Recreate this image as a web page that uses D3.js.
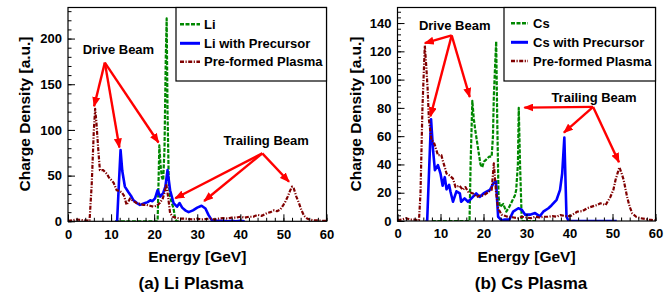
<!DOCTYPE html>
<html><head><meta charset="utf-8">
<script src="https://cdn.jsdelivr.net/npm/d3@7"></script>
<style>
body{margin:0;background:#fff;}
svg text{font-family:"Liberation Sans",Arial,Helvetica,sans-serif;font-weight:bold;fill:#000;}
</style></head>
<body><svg id="c" width="672" height="295"></svg>
<script>
// ---------------- data ----------------
const xTicks = [0,10,20,30,40,50,60];
const liYTicks = [0,50,100,150,200];
const csYTicks = [0,20,40,60,80,100,120,140];

// (a) Li plasma
const liE = [11,12,13,14,15,16,17,18,19,20,20.8,21.0,21.2,21.5,21.8,22.1,22.4,22.7,22.9,23.1,23.4,23.7,24.1,24.5,24.9,25.3,26];
const liV = [0,0,0,0,0,0,0,0,0,0,0,40,83,60,48,45,80,180,222,120,40,27,20,14,2,0,0];

const liPrecE = [11,11.4,11.8,12.2,12.6,13.2,14.0,14.6,15.2,16.0,16.7,17.3,17.9,18.5,19.1,19.6,20.2,20.8,21.4,22.1,22.6,23.1,23.7,24.5,25.3,25.9,26.5,27.2,28,29,30,31,31.9,32.6,33.4,34,35,36,37,38,39,40,41];
const liPrecV = [0,0,40,78,55,38,32,28,23,20,18,19,20,21,23,22,25,34,27,31,38,56,34,20,16,20,15,12,10,12,15,17,14,7,1,0.5,0.5,0.5,0,0.5,0,0.5,0];

const liPreE = [0,1,2,3,4,5,5.5,6.0,6.3,6.6,7.0,7.4,8.2,9.0,9.5,10.1,10.6,11.3,12.0,12.4,13.0,13.6,14.4,15.2,15.9,16.8,17.5,18.2,19.0,19.8,20.6,21.3,22.0,22.5,22.8,23.2,23.7,24.3,25,26,27,28,29,30,31,32,33,34,35,36,37,38,39,40,41,42,43,44,45,46.2,47,47.8,48.5,49.3,50,50.5,51,51.5,52,52.4,53,53.6,54.2,54.8,55.5,56,57,58,59,60];
const liPreV = [0.5,1,2,1.5,1,0.5,40,100,123,108,80,56,56,52,48,45,42,34,33,32,28,18,25,22,20,19,18,18,17,16,17,20,25,33,41,28,9,5,4,3,3,2.5,2,3,2,2.5,3,2,3,3.5,3,4,4,5,4,5,5,7,6,9,10,12,11,13,18,22,27,33,38,36,27,20,12,6,3,2,1,1,0.5,0.5,0.5];

// (b) Cs plasma
const csE = [8,10,12,14,16,16.75,17.0,17.4,17.75,18.1,18.8,19.3,19.7,20.1,20.5,21.3,21.9,22.2,22.4,22.7,22.95,23.2,23.5,23.8,24.2,24.6,25.3,26,26.8,27.3,27.6,28.0,28.2,28.5,28.9,30,32];
const csV = [0,0,0,0,0,0,40,85,72,64,50,40,38,42,43,45.5,45.5,60,88,110,127,70,17,10,11,12,6.6,10,15,18,22,40,80,40,0,0,0];

const csPrecE = [6.5,6.9,7.4,7.8,8.3,8.7,9.4,10,10.5,11,11.4,12,12.3,12.9,13.7,14.5,14.8,15.6,16.4,17.2,18.3,19.1,20,20.7,21.5,22.3,22.9,23.4,24.2,25,26,26.9,28.1,28.9,29.7,30.8,32,33.1,33.9,35.1,35.8,37,37.8,38.3,38.8,39.3,39.8,41,43,45,47,49,51];
const csPrecV = [0,0,40,72,49,36,39.5,33.6,25,31,22.4,25.6,21,13.6,21,19.5,13.6,16,13.6,16,19.5,17,19.5,20.7,22,26.6,28,3,0.5,1,1,6.6,9,8,4.5,4.5,5.6,3.3,6.6,9,11,15,22,33.6,59,3,0,0,0,0,0,0,0];

const csPreE = [0,1,2,3,4,5,5.35,5.8,6.35,6.7,7.0,7.3,7.9,8.4,8.7,9.4,10.2,10.5,11.0,11.4,12.2,12.9,13.5,14.4,15.2,15.8,16.4,17.6,18.4,19.2,20,21.2,21.9,22.4,22.9,23.4,24.2,25.3,26,27,28,29,30,31,32,33,34,35,36,37,37.9,39,40.2,41,41.8,43,44.1,45,46.4,47.2,48.4,49.5,50.2,50.7,51.2,51.6,52.1,52.6,53.4,54,54.6,55.5,56.5,57.5,58.5,60];
const csPreV = [0.5,1,2,1,1,0.5,20,80,124,109,94,72,57,56,53.6,46.6,46.6,43,38,33.6,32,30,24,25,22,24,20.7,19.5,17,18,18,20.7,22,40.7,21,9,4.5,3.3,3,2.5,2,3,2.5,2,3,2.5,3,3,3.5,3,4.2,3.5,3.4,5,6.6,7,9,10,11.3,12.5,11.3,17,22,29,34,38,34,29,17,10,5.4,3,2,1.5,1,0.5];

const liLegend = ["Li","Li with Precursor","Pre-formed Plasma"];
const csLegend = ["Cs","Cs with Precursor","Pre-formed Plasma"];
const captions = ["(a) Li Plasma","(b) Cs Plasma"];

// annotations in data units: label, label pos, origin, arrow tips
const liNotes = [
  {text:"Drive Beam", at:[11.7,188], from:[8.55,173.7], to:[[6.06,126],[11.93,80.7],[21.0,86.2]]},
  {text:"Trailing Beam", at:[46,88], from:[45.1,74.4], to:[[51.3,43.3],[31.6,22.2],[24.9,25.2]]}
];
const csNotes = [
  {text:"Drive Beam", at:[13.3,138.3], from:[12.6,131.3], to:[[6.35,125.8],[7.67,74.1],[16.8,87.7]]},
  {text:"Trailing Beam", at:[45.7,87.7], from:[45.5,80.7], to:[[29.5,80.2],[38.7,62.5],[51.5,41.6]]}
];

// ---------------- drawing ----------------
const svg = d3.select("#c");
const defs = svg.append("defs");
defs.append("marker").attr("id","ah").attr("viewBox","0 0 10 8")
  .attr("refX",9).attr("refY",4).attr("markerWidth",10).attr("markerHeight",8)
  .attr("markerUnits","userSpaceOnUse").attr("orient","auto")
  .append("path").attr("d","M0,0L10,4L0,8Z").attr("fill","#ff0000");

const styles = [
  {color:"#008800", width:2.2, dash:"4,1.5"},
  {color:"#0000ff", width:2.6, dash:null},
  {color:"#800000", width:2.2, dash:"4,1.5,1.2,1.5"}
];

function panel(cfg){
  const g = svg.append("g");
  const x = d3.scaleLinear().domain([0,60]).range([cfg.x0,cfg.x1]);
  const y = d3.scaleLinear().domain([0,cfg.ymax]).range([cfg.y1,cfg.y0]);
  const id = "clip"+cfg.name;
  defs.append("clipPath").attr("id",id).append("rect")
    .attr("x",cfg.x0).attr("y",cfg.y0).attr("width",cfg.x1-cfg.x0).attr("height",cfg.y1-cfg.y0);

  // series
  const line = d3.line().x(d=>x(d[0])).y(d=>y(d[1]));
  cfg.series.forEach((s,i)=>{
    const pts = s.E.map((e,k)=>[e,s.V[k]]);
    const p = g.append("path").datum(pts).attr("d",line)
      .attr("fill","none").attr("stroke",styles[i].color).attr("stroke-width",styles[i].width)
      .attr("stroke-linejoin","round").attr("clip-path",`url(#${id})`);
    if(styles[i].dash) p.attr("stroke-dasharray",styles[i].dash);
  });

  // axes (ROOT style: ticks inside)
  const xa = d3.axisBottom(x).tickValues(xTicks).tickSize(-7).tickPadding(8).tickFormat(d3.format("d"));
  const xm = d3.axisBottom(x).tickValues(d3.range(0,61,2)).tickSize(-3.5).tickFormat("");
  const ya = d3.axisLeft(y).tickValues(cfg.yTicks).tickSize(-7).tickPadding(6).tickFormat(d3.format("d"));
  const ym = d3.axisLeft(y).tickValues(d3.range(0,cfg.ymax,cfg.yMinor)).tickSize(-3.5).tickFormat("");
  [[xa,"x"],[xm,"x"],[ya,"y"],[ym,"y"]].forEach(([a,t])=>{
    const ax = g.append("g").attr("transform", t==="x" ? `translate(0,${cfg.y1})` : `translate(${cfg.x0},0)`).call(a);
    ax.select(".domain").remove();
    ax.selectAll("line").attr("stroke","#000").attr("stroke-width",1);
    ax.selectAll("text").attr("font-size",13).attr("font-weight","bold")
      .attr("font-family","'Liberation Sans',Arial,sans-serif").attr("fill","#000");
  });

  // frame
  g.append("rect").attr("x",cfg.x0).attr("y",cfg.y0).attr("width",cfg.x1-cfg.x0).attr("height",cfg.y1-cfg.y0)
    .attr("fill","none").attr("stroke","#000").attr("stroke-width",1.2);

  // annotations
  cfg.notes.forEach(n=>{
    g.append("text").attr("x",x(n.at[0])).attr("y",y(n.at[1])).attr("text-anchor","middle")
      .attr("dominant-baseline","central").attr("font-size",13).text(n.text);
    n.to.forEach(t=>{
      g.append("line").attr("x1",x(n.from[0])).attr("y1",y(n.from[1]))
        .attr("x2",x(t[0])).attr("y2",y(t[1]))
        .attr("stroke","#ff0000").attr("stroke-width",2.4).attr("marker-end","url(#ah)");
    });
  });

  // legend
  const lg = g.append("g");
  lg.append("rect").attr("x",cfg.legX).attr("y",cfg.y0).attr("width",cfg.x1-cfg.legX).attr("height",cfg.legY1-cfg.y0)
    .attr("fill","#fff").attr("stroke","#000").attr("stroke-width",1.2);
  cfg.legend.forEach((name,i)=>{
    const yy = cfg.legRows[i];
    const l = lg.append("line").attr("x1",cfg.legS0).attr("x2",cfg.legS1).attr("y1",yy).attr("y2",yy)
      .attr("stroke",styles[i].color).attr("stroke-width",styles[i].width+0.4);
    if(styles[i].dash) l.attr("stroke-dasharray",styles[i].dash);
    lg.append("text").attr("x",cfg.legT).attr("y",yy).attr("dominant-baseline","central")
      .attr("font-size",13).text(name);
  });

  // axis titles
  g.append("text").attr("x",(cfg.x0+cfg.x1)/2).attr("y",256).attr("text-anchor","middle")
    .attr("dominant-baseline","central").attr("font-size",15.5).text("Energy [GeV]");
  g.append("text").attr("transform",`translate(${cfg.yLabX},114) rotate(-90)`).attr("text-anchor","middle")
    .attr("dominant-baseline","central").attr("font-size",15.5).text("Charge Density [a.u.]");
  g.append("text").attr("x",cfg.capX).attr("y",283).attr("text-anchor","middle")
    .attr("dominant-baseline","central").attr("font-size",17).text(cfg.caption);
}

panel({name:"li", x0:68, x1:326.5, y0:7.5, y1:221.3, ymax:234, yTicks:liYTicks, yMinor:10,
  series:[{E:liE,V:liV},{E:liPrecE,V:liPrecV},{E:liPreE,V:liPreV}],
  notes:liNotes, legend:liLegend, legX:176, legY1:81, legRows:[24.3,43.3,61.7], legS0:180, legS1:200, legT:204,
  yLabX:24.5, capX:191, caption:captions[0]});
panel({name:"cs", x0:397.5, x1:655.5, y0:7.5, y1:221, ymax:151, yTicks:csYTicks, yMinor:4,
  series:[{E:csE,V:csV},{E:csPrecE,V:csPrecV},{E:csPreE,V:csPreV}],
  notes:csNotes, legend:csLegend, legX:504, legY1:81, legRows:[23.3,42.3,61], legS0:511, legS1:528, legT:533,
  yLabX:355, capX:531, caption:captions[1]});
</script></body></html>
